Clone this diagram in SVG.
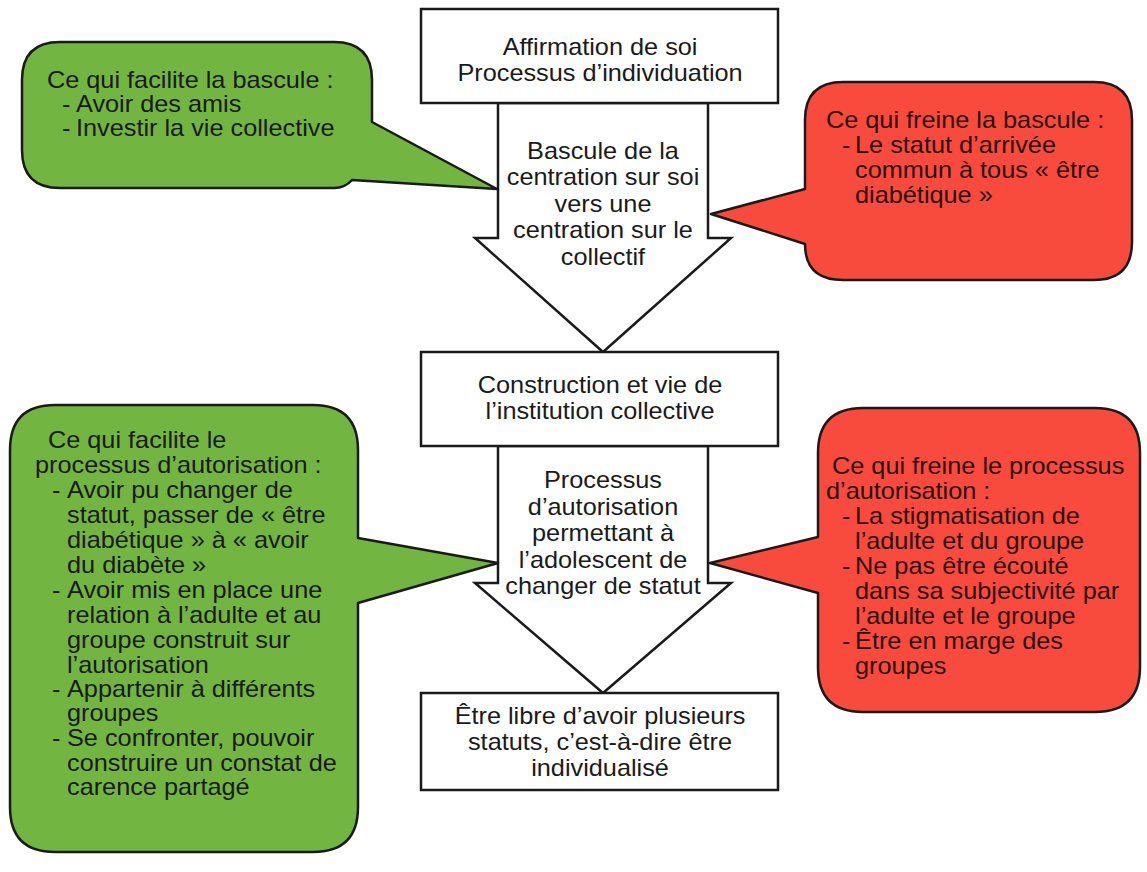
<svg xmlns="http://www.w3.org/2000/svg" width="1147" height="872" viewBox="0 0 1147 872">
<style>
.bg{fill:#ffffff}
.box{fill:#ffffff;stroke:#1a1a1a;stroke-width:2.5}
.arrow{fill:#ffffff;stroke:#1a1a1a;stroke-width:2.5;stroke-linejoin:miter}
.green{fill:#73b541;stroke:#1a1a1a;stroke-width:2.5;stroke-linejoin:round}
.red{fill:#f84b3d;stroke:#1a1a1a;stroke-width:2.5;stroke-linejoin:round}
text{font-family:"Liberation Sans",Arial,sans-serif;font-size:23px;fill:#1a1a1a}
.c{text-anchor:middle}
.rt{fill:#2a0f0b}
</style>
<rect class="bg" x="0" y="0" width="1147" height="872"/>
<g id="connectors">
<polygon id="arrow1" class="arrow" points="498,103 708,103 708,238 731,238 603,352 475,238 498,238"/>
<polygon id="arrow2" class="arrow" points="498,446 708,446 708,583 731,583 603,693 475,583 498,583"/>
</g>
<g id="arrow1-label" transform="scale(1.1 1)">
<text class="c" x="548.2" y="159">Bascule de la</text>
<text class="c" x="548.2" y="185">centration sur soi</text>
<text class="c" x="548.2" y="212">vers une</text>
<text class="c" x="548.2" y="238">centration sur le</text>
<text class="c" x="548.2" y="265">collectif</text>
</g>
<g id="arrow2-label" transform="scale(1.1 1)">
<text class="c" x="548.2" y="488">Processus</text>
<text class="c" x="548.2" y="515">d’autorisation</text>
<text class="c" x="548.2" y="541">permettant à</text>
<text class="c" x="548.2" y="568">l’adolescent de</text>
<text class="c" x="548.2" y="594">changer de statut</text>
</g>
<g id="box1">
<rect class="box" x="421" y="9" width="357" height="94"/>
<g transform="scale(1.1 1)">
<text class="c" x="545.5" y="55">Affirmation de soi</text>
<text class="c" x="545.5" y="81">Processus d’individuation</text>
</g>
</g>
<g id="box2">
<rect class="box" x="421" y="352" width="357" height="94"/>
<g transform="scale(1.1 1)">
<text class="c" x="545.5" y="393">Construction et vie de</text>
<text class="c" x="545.5" y="419">l’institution collective</text>
</g>
</g>
<g id="box3">
<rect class="box" x="421" y="693" width="357" height="97"/>
<g transform="scale(1.1 1)">
<text class="c" x="545.5" y="724">Être libre d’avoir plusieurs</text>
<text class="c" x="545.5" y="750">statuts, c’est-à-dire être</text>
<text class="c" x="545.5" y="776">individualisé</text>
</g>
</g>
<g id="bubble-green-1">
<path class="green" d="M60,42 H334 Q372,42 372,80 V122 L497,189 L352,180 Q345,188 334,188 H60 Q22,188 22,150 V80 Q22,42 60,42 Z"/>
<g transform="scale(1.1 1)">
<text x="42.7" y="88">Ce qui facilite la bascule :</text>
<text x="56.4" y="112">-<tspan x="69.1">Avoir des amis</tspan></text>
<text x="56.4" y="136">-<tspan x="69.1">Investir la vie collective</tspan></text>
</g>
</g>
<g id="bubble-red-1">
<path class="red" d="M843,82 H1094 Q1132,82 1132,120 V242 Q1132,280 1094,280 H843 Q805,280 805,244 L711,214 L805,189 V120 Q805,82 843,82 Z"/>
<g transform="scale(1.1 1)">
<text class="rt" x="750.9" y="128">Ce qui freine la bascule :</text>
<text class="rt" x="765.5" y="153">-<tspan x="777.3">Le statut d’arrivée</tspan></text>
<text class="rt" x="777.3" y="178">commun à tous « être</text>
<text class="rt" x="777.3" y="203">diabétique »</text>
</g>
</g>
<g id="bubble-green-2">
<path class="green" d="M55,405 H313 Q358,405 358,450 V538 L498,563 L358,603 V807 Q358,852 313,852 H55 Q10,852 10,807 V450 Q10,405 55,405 Z"/>
<g transform="scale(1.1 1)">
<text x="43.6" y="448">Ce qui facilite le</text>
<text x="31.8" y="473">processus d’autorisation :</text>
<text x="47.3" y="498">-<tspan x="60.9">Avoir pu changer de</tspan></text>
<text x="60.9" y="523">statut, passer de « être</text>
<text x="60.9" y="548">diabétique » à « avoir</text>
<text x="60.9" y="573">du diabète »</text>
<text x="47.3" y="598">-<tspan x="60.9">Avoir mis en place une</tspan></text>
<text x="60.9" y="623">relation à l’adulte et au</text>
<text x="60.9" y="648">groupe construit sur</text>
<text x="60.9" y="673">l’autorisation</text>
<text x="47.3" y="697">-<tspan x="60.9">Appartenir à différents</tspan></text>
<text x="60.9" y="721">groupes</text>
<text x="47.3" y="746">-<tspan x="60.9">Se confronter, pouvoir</tspan></text>
<text x="60.9" y="771">construire un constat de</text>
<text x="60.9" y="795">carence partagé</text>
</g>
</g>
<g id="bubble-red-2">
<path class="red" d="M863,408 H1095 Q1140,408 1140,453 V667 Q1140,712 1095,712 H863 Q818,712 818,667 V593 L710,563 L818,537 V453 Q818,408 863,408 Z"/>
<g transform="scale(1.1 1)">
<text class="rt" x="756.4" y="474">Ce qui freine le processus</text>
<text class="rt" x="750.9" y="499">d’autorisation :</text>
<text class="rt" x="765.5" y="524">-<tspan x="777.3">La stigmatisation de</tspan></text>
<text class="rt" x="777.3" y="549">l’adulte et du groupe</text>
<text class="rt" x="765.5" y="574">-<tspan x="777.3">Ne pas être écouté</tspan></text>
<text class="rt" x="777.3" y="599">dans sa subjectivité par</text>
<text class="rt" x="777.3" y="624">l’adulte et le groupe</text>
<text class="rt" x="765.5" y="649">-<tspan x="777.3">Être en marge des</tspan></text>
<text class="rt" x="777.3" y="674">groupes</text>
</g>
</g>
</svg>
